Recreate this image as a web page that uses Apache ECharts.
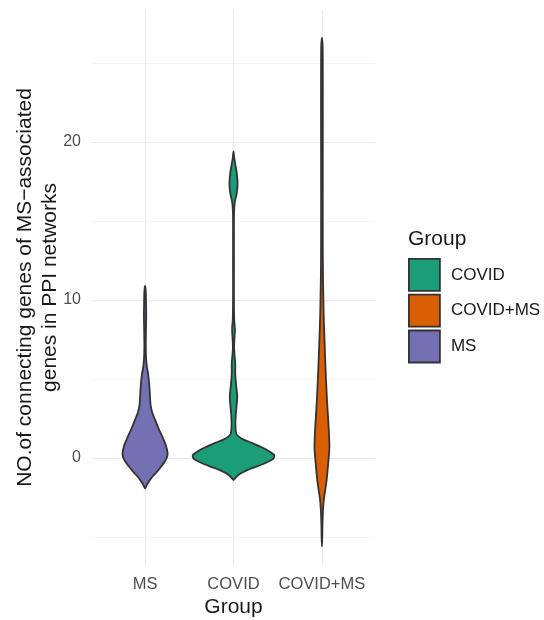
<!DOCTYPE html>
<html>
<head>
<meta charset="utf-8">
<script src="https://cdn.jsdelivr.net/npm/echarts@6/dist/echarts.min.js"></script>
<style>
html,body{margin:0;padding:0;background:#fff;}
#chart{width:544px;height:620px;}
</style>
</head>
<body>
<div id="chart"></div>
<script>
// Categories (x order) and legend order
const categories = ['MS', 'COVID', 'COVID+MS'];
const legendOrder = ['COVID', 'COVID+MS', 'MS'];
const colors = { 'MS': '#7570B3', 'COVID': '#1B9E77', 'COVID+MS': '#D95F02' };

// Violin profiles: y value and density half-width (x units), bottom to top
const msY = [-1.92, -1.7, -1.5, -1.2, -0.9, -0.55, -0.3, 0.0, 0.3, 0.8, 1.35, 1.8, 2.4, 2.9, 3.4, 4.0, 4.7, 5.3, 5.8, 6.3, 7.0, 8.0, 9.0, 9.5, 10.5, 10.9];
const msW = [0, 0.02, 0.042, 0.08, 0.13, 0.18, 0.215, 0.245, 0.255, 0.235, 0.195, 0.158, 0.115, 0.08, 0.062, 0.055, 0.047, 0.035, 0.02, 0.012, 0.008, 0.01, 0.013, 0.012, 0.008, 0];

const covidY = [-1.39, -1.3, -1.15, -0.97, -0.75, -0.55, -0.35, -0.13, 0.0, 0.19, 0.4, 0.6, 0.75, 0.93, 1.1, 1.25, 1.4, 1.56, 2.0, 2.7, 3.3, 3.9, 4.6, 5.3, 6.0, 6.5, 7.0, 7.5, 8.1, 8.8, 10, 12, 14, 15.5, 16.2, 16.7, 17.3, 18.0, 18.6, 19.0, 19.4];
const covidW = [0, 0.015, 0.04, 0.085, 0.16, 0.26, 0.35, 0.43, 0.455, 0.46, 0.41, 0.35, 0.29, 0.22, 0.14, 0.085, 0.05, 0.03, 0.022, 0.025, 0.035, 0.042, 0.03, 0.02, 0.02, 0.012, 0.007, 0.01, 0.016, 0.008, 0.005, 0.005, 0.005, 0.006, 0.015, 0.035, 0.046, 0.038, 0.02, 0.008, 0];

const comboY = [-5.6, -5.0, -4.2, -3.3, -2.6, -2.0, -1.3, -0.5, 0.6, 1.5, 2.5, 3.7, 5.5, 7.3, 9.0, 10.5, 11.5, 13, 16, 20, 24, 26, 26.6];
const comboW = [0, 0.004, 0.006, 0.012, 0.022, 0.038, 0.055, 0.068, 0.084, 0.08, 0.07, 0.057, 0.042, 0.03, 0.02, 0.015, 0.012, 0.01, 0.009, 0.01, 0.01, 0.008, 0];

const profiles = {
  'MS': { y: msY, w: msW },
  'COVID': { y: covidY, w: covidW },
  'COVID+MS': { y: comboY, w: comboW }
};

const yMajorTicks = [0, 10, 20];
const yMinorTicks = [-5, 5, 15, 25];
const yMin = -6.77, yMax = 28.35;

const FONT = '"Liberation Sans", Arial, Helvetica, sans-serif';

function makeRender(name) {
  const p = profiles[name];
  return function (params, api) {
    const xc = api.value(0);
    const pts = [];
    for (let i = 0; i < p.y.length; i++) {
      pts.push(api.coord([xc + p.w[i], p.y[i]]));
    }
    for (let i = p.y.length - 2; i >= 1; i--) {
      pts.push(api.coord([xc - p.w[i], p.y[i]]));
    }
    return {
      type: 'polygon',
      shape: { points: pts, smooth: 0.3 },
      style: { fill: colors[name], stroke: '#333333', lineWidth: 1.8 }
    };
  };
}

const series = legendOrder.map(function (name) {
  return {
    name: name,
    type: 'custom',
    clip: false,
    itemStyle: { color: colors[name], borderColor: '#333333', borderWidth: 1.8 },
    data: [[categories.indexOf(name) + 1, 0]],
    encode: { x: 0, y: 1 },
    renderItem: makeRender(name),
    silent: true
  };
});

const chart = echarts.init(document.getElementById('chart'), null, { renderer: 'canvas' });
chart.setOption({
  backgroundColor: '#ffffff',
  animation: false,
  textStyle: { fontFamily: FONT },
  title: {
    text: 'Group',
    left: 403,
    top: 224,
    textStyle: { fontFamily: FONT, fontSize: 21, fontWeight: 'normal', color: '#1a1a1a' }
  },
  legend: {
    orient: 'vertical',
    left: 403,
    top: 253,
    itemWidth: 31,
    itemHeight: 32,
    itemGap: 2,
    icon: 'rect',
    data: legendOrder.map(function (n) {
      return { name: n, itemStyle: { color: colors[n], borderColor: '#333333', borderWidth: 1.8 } };
    }),
    textStyle: { fontFamily: FONT, fontSize: 17, color: '#1a1a1a', padding: [0, 0, 0, 6] },
    selectedMode: false
  },
  grid: { left: 92, right: 169, top: 10, bottom: 55, containLabel: false, outerBoundsMode: 'none' },
  xAxis: {
    type: 'value',
    min: 0.4,
    max: 3.6,
    name: 'Group',
    nameLocation: 'middle',
    nameGap: 32,
    nameMoveOverlap: false,
    nameTextStyle: { fontFamily: FONT, fontSize: 21, color: '#1a1a1a' },
    axisLine: { show: false },
    axisTick: { show: false, customValues: [1, 2, 3] },
    axisLabel: {
      customValues: [1, 2, 3],
      formatter: function (v) { return categories[Math.round(v) - 1]; },
      color: '#4d4d4d',
      fontSize: 16.5,
      margin: 11,
      fontFamily: FONT
    },
    splitLine: { show: true, lineStyle: { color: '#ebebeb', width: 1.2 } }
  },
  yAxis: [
    {
      type: 'value',
      min: yMin,
      max: yMax,
      name: 'NO.of connecting genes of MS\u2212associated\ngenes in PPI networks',
      nameLocation: 'middle',
      nameRotate: 90,
      nameGap: 29,
      nameMoveOverlap: false,
      nameTextStyle: { fontFamily: FONT, fontSize: 21, color: '#1a1a1a', lineHeight: 25, align: 'center' },
      axisLine: { show: false },
      axisTick: { show: false, customValues: yMajorTicks },
      axisLabel: { customValues: yMajorTicks, color: '#4d4d4d', fontSize: 16, margin: 11, fontFamily: FONT },
      splitLine: { show: true, lineStyle: { color: '#ebebeb', width: 1.2 } }
    },
    {
      type: 'value',
      min: yMin,
      max: yMax,
      position: 'left',
      axisLine: { show: false },
      axisTick: { show: false, customValues: yMinorTicks },
      axisLabel: { show: false, customValues: yMinorTicks },
      splitLine: { show: true, lineStyle: { color: '#f0f0f0', width: 0.7 } }
    }
  ],
  series: series
});
</script>
</body>
</html>
